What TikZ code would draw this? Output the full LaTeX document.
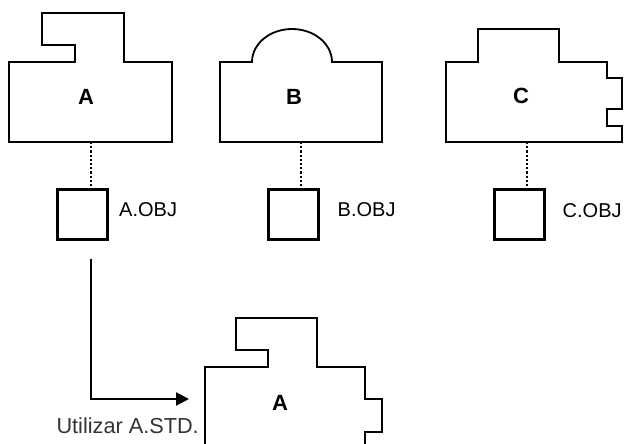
\documentclass[tikz,border=0pt]{standalone}
\usepackage{fontspec}
\setmainfont{Liberation Sans}
\usetikzlibrary{arrows.meta,positioning}

\begin{document}
\begin{tikzpicture}[x=1pt,y=-1pt,
      shp/.style={draw,line width=1.8pt,line join=miter},
      obj/.style={draw,line width=3pt,minimum size=50pt,inner sep=0pt},
      conn/.style={dotted,line width=2.2pt},
      arr/.style={-{Triangle[length=13pt,width=13pt]},line width=2.2pt},
      ltr/.style={font=\fontsize{22}{26}\selectfont\bfseries},
      oname/.style={font=\fontsize{20}{24}\selectfont,inner sep=0pt}]
    \useasboundingbox (0,0) rectangle (624,444);
    % source drawings
    \draw[shp] (42,13) -- (124,13) -- (124,62) -- (172,62) -- (172,142)
      -- (9,142) -- (9,62) -- (75,62) -- (75,45) -- (42,45) -- cycle;
    \draw[shp] (220,62) -- (252,62) arc[start angle=180,end angle=0,x radius=40pt,y radius=33pt]
      -- (382,62) -- (382,142) -- (220,142) -- cycle;
    \draw[shp] (446,62) -- (478,62) -- (478,29) -- (559,29) -- (559,62) -- (607,62)
      -- (607,78) -- (622,78) -- (622,109) -- (607,109) -- (607,126) -- (622,126)
      -- (622,142) -- (446,142) -- cycle;
    \node[ltr] (lA) at (86,97) {A};
    \node[ltr] (lB) at (294,97) {B};
    \node[ltr] (lC) at (521,96) {C};
    \coordinate (botA) at (91,142);
    \coordinate (botB) at (301,142);
    \coordinate (botC) at (527,142);
    % object files
    \node[obj] (objA) at (82.5,214) {};
    \node[obj] (objB) at (293,214) {};
    \node[obj] (objC) at (519,214.5) {};
    \node[oname,right=10pt of objA,yshift=4pt] (nA) {A.OBJ};
    \node[oname,right=18pt of objB,yshift=4pt] (nB) {B.OBJ};
    \node[oname,right=17pt of objC,yshift=4pt] (nC) {C.OBJ};
    \draw[conn] (botA) -- (botA |- objA.north);
    \draw[conn] (botB) -- (botB |- objB.north);
    \draw[conn] (botC) -- (botC |- objC.north);
    % reused drawing
    \draw[shp] (205,444) -- (205,367) -- (268,367) -- (268,350) -- (236,350) -- (236,318)
      -- (317,318) -- (317,367) -- (365,367) -- (365,399) -- (382,399) -- (382,432)
      -- (365,432) -- (365,444);
    \node[ltr] (lD) at (280,403) {A};
    \coordinate (stdL) at (205,399);
    \draw[arr] ([yshift=-18pt]objA.south -| botA) |- ([xshift=-16pt]stdL);
    \node[font=\fontsize{21.7}{26}\selectfont,text=black!80,inner sep=0pt,anchor=base east]
      (use) at (199,433) {Utilizar A.STD.};
\end{tikzpicture}
\end{document}
